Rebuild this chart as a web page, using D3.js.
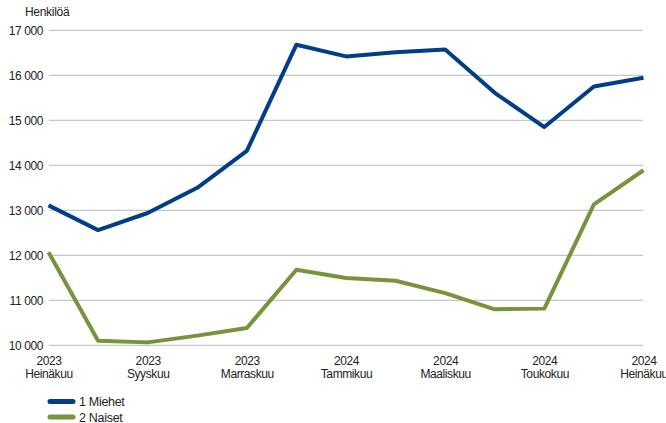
<!DOCTYPE html>
<html><head><meta charset="utf-8">
<script src="https://cdn.jsdelivr.net/npm/d3@7"></script>
<style>
html,body{margin:0;padding:0;background:#fff;}
svg{display:block;font-family:"Liberation Sans",Arial,sans-serif;}
</style></head><body>
<svg id="c" width="666" height="423"></svg>
<script>
const years = ["2023","2023","2023","2023","2023","2023","2024","2024","2024","2024","2024","2024","2024"];
const months = ["Heinäkuu","Elokuu","Syyskuu","Lokakuu","Marraskuu","Joulukuu","Tammikuu","Helmikuu","Maaliskuu","Huhtikuu","Toukokuu","Kesäkuu","Heinäkuu"];
const miehet = [13110, 12560, 12940, 13500, 14320, 16680, 16420, 16510, 16575, 15610, 14850, 15750, 15945];
const naiset = [12070, 10100, 10065, 10215, 10385, 11680, 11495, 11435, 11160, 10800, 10815, 13130, 13890];
const yTicks = [10000, 11000, 12000, 13000, 14000, 15000, 16000, 17000];
const seriesNames = ["1 Miehet", "2 Naiset"];
const colors = ["#003f87", "#77933c"];

const svg = d3.select("#c");
const x = d3.scalePoint().domain(d3.range(months.length)).range([48.5, 643.5]);
const y = d3.scaleLinear().domain([10000, 17000]).range([345.3, 30.3]);
const fmt = v => d3.format(",")(v).replace(",", " ");

// grid
svg.append("g").selectAll("line").data(yTicks).join("line")
  .attr("x1", 49).attr("x2", 643)
  .attr("y1", d => y(d)).attr("y2", d => y(d))
  .attr("stroke", "#c6c6c6").attr("stroke-width", 1.3);

// y axis labels
const yAxis = svg.append("g").attr("transform", "translate(43,0)")
  .call(d3.axisLeft(y).tickValues(yTicks).tickSize(0).tickPadding(0).tickFormat(fmt));
yAxis.select(".domain").remove();
yAxis.selectAll("text").attr("font-size", 12).attr("fill", "#222")
  .attr("font-family", "Liberation Sans, Arial, sans-serif").attr("letter-spacing", -0.4);

svg.append("text").attr("x", 25).attr("y", 16).attr("font-size", 12).attr("fill", "#222")
  .attr("letter-spacing", -0.3).text("Henkilöä");

// x axis labels (every second)
const xAxis = svg.append("g").attr("transform", "translate(0,352)")
  .call(d3.axisBottom(x).tickValues(d3.range(0, months.length, 2)).tickSize(0).tickPadding(0).tickFormat(""));
xAxis.select(".domain").remove();
xAxis.selectAll(".tick").each(function(d){
  const t = d3.select(this).append("text").attr("font-size", 12).attr("fill", "#222")
    .attr("text-anchor", "middle").attr("letter-spacing", -0.4);
  t.append("tspan").attr("x", 0).attr("y", 12.5).text(years[d]);
  t.append("tspan").attr("x", 0).attr("y", 26).text(months[d]);
});

// lines
const line = d3.line().x((d, i) => x(i)).y(d => y(d));
[miehet, naiset].forEach((s, k) => {
  svg.append("path").datum(s).attr("d", line).attr("fill", "none")
    .attr("stroke", colors[k]).attr("stroke-width", 4).attr("stroke-linejoin", "round");
});

// legend
const lg = svg.append("g");
seriesNames.forEach((n, k) => {
  const yy = 401.5 + k * 15.5;
  lg.append("line").attr("x1", 50).attr("x2", 73).attr("y1", yy).attr("y2", yy)
    .attr("stroke", colors[k]).attr("stroke-width", 5).attr("stroke-linecap", "round");
  lg.append("text").attr("x", 79).attr("y", yy + 4.5).attr("font-size", 12.5).attr("fill", "#222")
    .attr("letter-spacing", -0.3).text(n);
});
</script>
</body></html>
